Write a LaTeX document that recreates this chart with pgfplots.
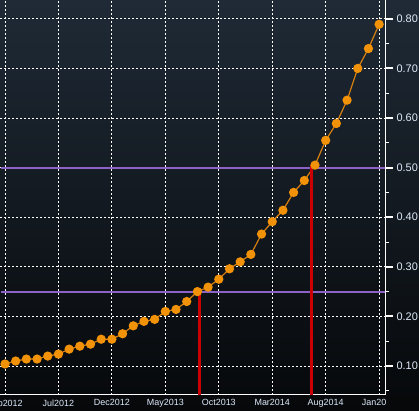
\documentclass[border=0pt]{standalone}
\usepackage{pgfplots}
\pgfplotsset{compat=1.18}
\usepackage{fontspec}
\setmainfont{Liberation Sans}
\definecolor{bgtop}{RGB}{31,42,54}
\definecolor{bgbot}{RGB}{6,8,10}
\definecolor{lab}{RGB}{222,234,250}
\definecolor{orgfill}{RGB}{242,146,8}
\definecolor{orgline}{RGB}{214,128,16}
\definecolor{purp}{RGB}{140,98,200}
\definecolor{redl}{RGB}{204,0,0}
\begin{document}
\begin{tikzpicture}[x=1bp,y=1bp]
\shade[top color=bgtop, bottom color=bgbot] (0,-16) rectangle (419,395);
\begin{axis}[
  at={(0,0)}, anchor=south west,
  scale only axis, width=385bp, height=395bp,
  xmin=-0.468, xmax=35.55, ymin=0.0415, ymax=0.838,
  axis x line*=bottom, axis y line*=right,
  axis line style={white, line width=1bp},
  tick align=outside,
  xtick={0,5,...,35},
  xticklabels={Feb2012,Jul2012,Dec2012,May2013,Oct2013,Mar2014,Aug2014,Jan2015},
  major x tick style={draw=none},
  ytick={0.1,0.2,...,0.81},
  minor ytick={0.05,0.15,...,0.76},
  major y tick style={white, line width=2bp},
  minor y tick style={white, line width=1bp},
  major tick length=8bp, minor tick length=4bp,
  grid=major,
  major grid style={white, line width=0.9bp, dash pattern=on 2bp off 2bp},
  yticklabel style={font=\fontsize{11}{12}\selectfont, text=lab,
    /pgf/number format/.cd, fixed, fixed zerofill, precision=2, assume math mode=true},
  xticklabel style={font=\fontsize{9}{10}\selectfont, text=lab, yshift=7bp},
  clip=true,
]
\addplot[orgline, line width=1.2bp, mark=*, mark size=4bp,
  mark options={fill=orgfill, draw=orgfill}] coordinates {
(0,0.104) (1,0.110) (2,0.114) (3,0.114) (4,0.120) (5,0.124)
(6,0.134) (7,0.140) (8,0.144) (9,0.154) (10,0.154) (11,0.165)
(12,0.181) (13,0.190) (14,0.194) (15,0.210) (16,0.214) (17,0.230)
(18,0.250) (19,0.259) (20,0.275) (21,0.296) (22,0.310) (23,0.325)
(24,0.366) (25,0.391) (26,0.414) (27,0.450) (28,0.474) (29,0.505)
(30,0.555) (31,0.589) (32,0.636) (33,0.700) (34,0.740) (35,0.789)
};
\addplot[purp, line width=2bp] coordinates {(-0.4,0.25) (36,0.25)};
\addplot[purp, line width=2bp] coordinates {(-0.4,0.50) (36,0.50)};
\addplot[redl, line width=3bp] coordinates {(18.2,0) (18.2,0.25)};
\addplot[redl, line width=3bp] coordinates {(28.65,0) (28.65,0.505)};
\end{axis}
\fill[bgbot] (385.6,-16) rectangle (419,-0.6);
\pgfresetboundingbox
\useasboundingbox (0,-16) rectangle (419,395);
\end{tikzpicture}
\end{document}
